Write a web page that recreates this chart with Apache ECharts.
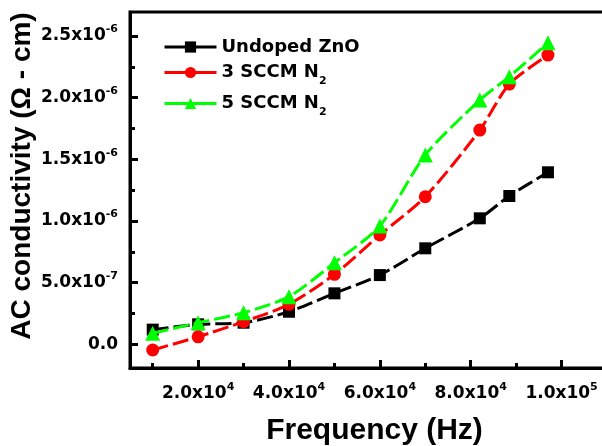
<!DOCTYPE html>
<html>
<head>
<meta charset="utf-8">
<script src="https://cdn.jsdelivr.net/npm/echarts@6/dist/echarts.min.js"></script>
<style>
html,body{margin:0;padding:0;background:#fff;}
#chart{width:602px;height:446px;}
</style>
</head>
<body>
<div id="chart"></div>
<script>
// ---- data ----
const freq = [10000, 20000, 30000, 40000, 50000, 60000, 70000, 82000, 88500, 97000];
const undoped = [1.20e-7, 1.63e-7, 1.76e-7, 2.65e-7, 4.14e-7, 5.62e-7, 7.79e-7, 1.022e-6, 1.203e-6, 1.395e-6];
const sccm3 = [-4.5e-8, 6.2e-8, 1.84e-7, 3.25e-7, 5.68e-7, 8.87e-7, 1.197e-6, 1.737e-6, 2.110e-6, 2.345e-6];
const sccm5 = [9.0e-8, 1.76e-7, 2.57e-7, 3.87e-7, 6.62e-7, 9.60e-7, 1.535e-6, 1.980e-6, 2.170e-6, 2.445e-6];
const seriesNames = ['Undoped ZnO', '3 SCCM N2', '5 SCCM N2'];
const xMajorTicks = [20000, 40000, 60000, 80000, 100000];
const xMinorTicks = [10000, 30000, 50000, 70000, 90000];
const yMajorTicks = [0, 5e-7, 1e-6, 1.5e-6, 2e-6, 2.5e-6];
const yMinorTicks = [2.5e-7, 7.5e-7, 1.25e-6, 1.75e-6, 2.25e-6];

function pairs(ys) { return freq.map((f, i) => [f, ys[i]]); }
function sci(v) {
  if (Math.abs(v) < 1e-20) return '{b|0.0}';
  const e = Math.floor(Math.log10(Math.abs(v)) + 1e-9);
  const m = v / Math.pow(10, e);
  return '{b|' + m.toFixed(1) + 'x10}{sup|' + e + '}';
}
const tickFont = 'DejaVu Sans';
const richTick = {
  b: { fontFamily: tickFont, fontWeight: 'bold', fontSize: 17, color: '#000', lineHeight: 24 },
  sup: { fontFamily: tickFont, fontWeight: 'bold', fontSize: 11, color: '#000', lineHeight: 11, verticalAlign: 'top' }
};

const chart = echarts.init(document.getElementById('chart'), null, { renderer: 'canvas' });
const XMIN = 5000, XMAX = 110000, YMIN = -1.91e-7, YMAX = 2.694e-6;

const option = {
  backgroundColor: '#ffffff',
  animation: false,
  grid: { left: 130, right: -5, top: 12, bottom: 78, containLabel: false, outerBoundsMode: 'none',
          show: true, borderColor: '#000', borderWidth: 3, backgroundColor: 'transparent' },
  legend: {
    left: 158, top: 33, orient: 'vertical', itemWidth: 52, itemHeight: 14, itemGap: 2,
    data: seriesNames,
    lineStyle: { type: 'solid', width: 3 },
    formatter: function (name) {
      const m = name.match(/^(.*)N2$/);
      if (m) return '{t|' + m[1] + 'N}{sub|2}';
      return '{t|' + name + '}';
    },
    textStyle: {
      rich: {
        t: { fontFamily: tickFont, fontWeight: 'bold', fontSize: 18, color: '#000', lineHeight: 20 },
        sub: { fontFamily: tickFont, fontWeight: 'bold', fontSize: 11, color: '#000', lineHeight: 12, padding: [18, 0, 0, 0] }
      }
    }
  },
  xAxis: [{
    type: 'value', min: XMIN, max: XMAX, position: 'bottom',
    name: 'Frequency (Hz)', nameLocation: 'middle', nameGap: 48, nameMoveOverlap: false,
    nameTextStyle: { fontFamily: 'Liberation Sans', fontWeight: 'bold', fontSize: 30, color: '#000', padding: [0, 0, 0, 12] },
    axisLine: { show: true, onZero: false, lineStyle: { color: '#000', width: 3 } },
    axisTick: { show: true, inside: true, length: 8, lineStyle: { color: '#000', width: 3 }, customValues: xMajorTicks },
    axisLabel: { show: true, margin: 14, formatter: (v) => sci(v), rich: richTick, customValues: xMajorTicks },
    splitLine: { show: false }
  }, {
    type: 'value', min: XMIN, max: XMAX, position: 'bottom',
    axisLine: { show: false, onZero: false },
    axisTick: { show: true, inside: true, length: 5, lineStyle: { color: '#000', width: 3 }, customValues: xMinorTicks },
    axisLabel: { show: false }, splitLine: { show: false }
  }],
  yAxis: [{
    type: 'value', min: YMIN, max: YMAX, position: 'left',
    name: 'AC conductivity (\u03A9 - cm)', nameLocation: 'middle', nameGap: 94, nameMoveOverlap: false,
    nameTextStyle: { fontFamily: 'Liberation Sans', fontWeight: 'bold', fontSize: 28, color: '#000', padding: [0, 0, 0, 28] },
    axisLine: { show: true, onZero: false, lineStyle: { color: '#000', width: 3 } },
    axisTick: { show: true, inside: true, length: 8, lineStyle: { color: '#000', width: 3 }, customValues: yMajorTicks },
    axisLabel: { show: true, margin: 12, formatter: (v) => sci(v), rich: richTick, customValues: yMajorTicks },
    splitLine: { show: false }
  }, {
    type: 'value', min: YMIN, max: YMAX, position: 'left',
    axisLine: { show: false, onZero: false },
    axisTick: { show: true, inside: true, length: 5, lineStyle: { color: '#000', width: 3 }, customValues: yMinorTicks },
    axisLabel: { show: false }, splitLine: { show: false }
  }],
  series: [
    {
      name: seriesNames[0], type: 'line', data: pairs(undoped), smooth: 0.25,
      symbol: 'rect', symbolSize: 12, color: '#000000',
      itemStyle: { color: '#000000' },
      lineStyle: { color: '#000000', width: 3, type: [16, 5] }, z: 2
    },
    {
      name: seriesNames[1], type: 'line', data: pairs(sccm3), smooth: 0.25,
      symbol: 'circle', symbolSize: 13, color: '#ff0000',
      itemStyle: { color: '#ff0000' },
      lineStyle: { color: '#ff0000', width: 3, type: [16, 5] }, z: 3
    },
    {
      name: seriesNames[2], type: 'line', data: pairs(sccm5), smooth: 0.25,
      symbol: 'triangle', symbolSize: 15, color: '#00ff00',
      itemStyle: { color: '#00ff00' },
      lineStyle: { color: '#00ff00', width: 3, type: [16, 5] }, z: 4
    }
  ]
};
chart.setOption(option);
</script>
</body>
</html>
